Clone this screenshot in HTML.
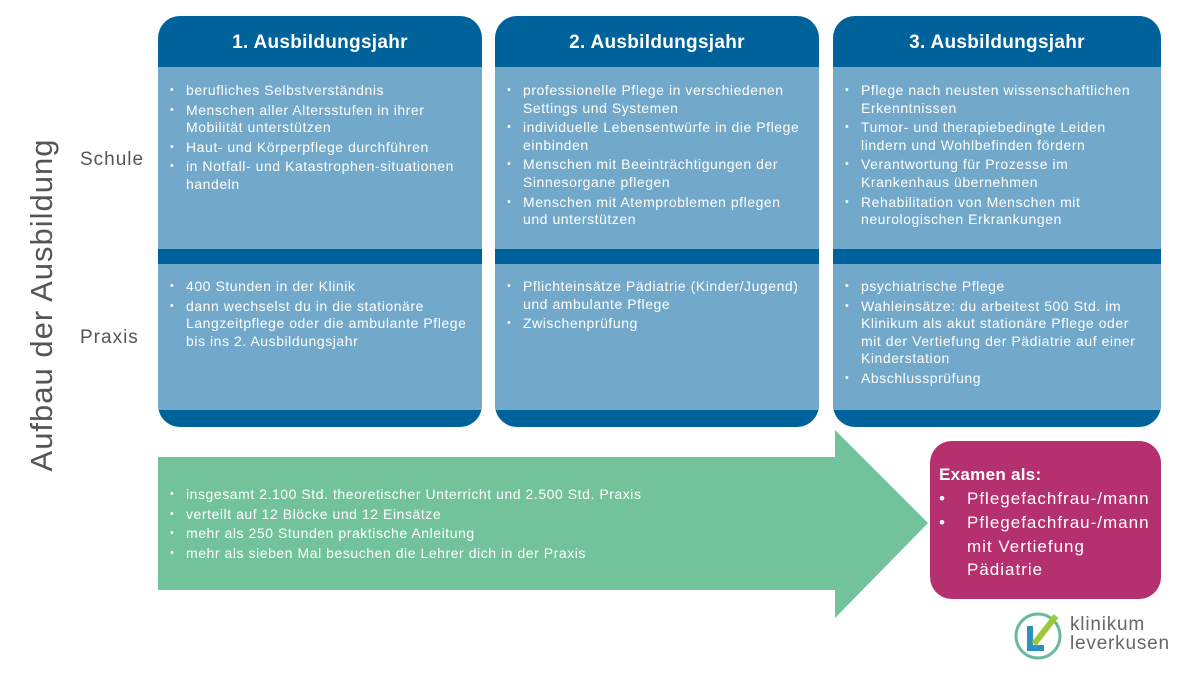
<!DOCTYPE html>
<html><head><meta charset="utf-8"><style>
body{margin:0;width:1200px;height:675px;background:#fff;font-family:"Liberation Sans",sans-serif;position:relative;overflow:hidden}
.col{position:absolute;top:16px;width:324px;height:411px;border-radius:22px;background:#00629a;overflow:hidden}
.col .h{height:51px;color:#fff;font-size:19px;font-weight:bold;text-align:center;line-height:54px;letter-spacing:0.3px}
.col .s{position:absolute;left:0;right:0;top:51px;height:182px;background:#72a8c9}
.col .p{position:absolute;left:0;right:0;top:248px;height:146px;background:#72a8c9}
ul{margin:0;padding:0;list-style:none}
li{position:relative;padding-left:28px;padding-right:6px;color:#fff;font-size:14px;letter-spacing:0.55px;line-height:17.6px;margin-bottom:2px}
li:before{content:"•";position:absolute;left:12px;font-size:11px}
.s ul{padding-top:15px}.p ul{padding-top:14px}
.c2 li,.c3 li{padding-right:14px}
.lab{position:absolute;color:#555;font-size:19px;letter-spacing:1px}
.ex{position:absolute;left:930px;top:441px;width:231px;height:158px;background:#b5306e;border-radius:22px;color:#fff;font-size:17px;line-height:23.5px;letter-spacing:1px}
</style></head><body>
<div style="position:absolute;left:42px;top:305px;transform:translate(-50%,-50%) rotate(-90deg);white-space:nowrap;color:#555;font-size:31px;letter-spacing:1px">Aufbau der Ausbildung</div>
<div class="lab" style="left:80px;top:149px">Schule</div>
<div class="lab" style="left:80px;top:327px">Praxis</div>

<div class="col" style="left:158px"><div class="h">1. Ausbildungsjahr</div>
<div class="s"><ul><li>berufliches Selbstverständnis</li><li>Menschen aller Altersstufen in ihrer Mobilität unterstützen</li><li>Haut- und Körperpflege durchführen</li><li>in Notfall- und Katastrophen-situationen handeln</li></ul></div>
<div class="p"><ul><li>400 Stunden in der Klinik</li><li>dann wechselst du in die stationäre Langzeitpflege oder die ambulante Pflege bis ins 2. Ausbildungsjahr</li></ul></div></div>

<div class="col c2" style="left:495px"><div class="h">2. Ausbildungsjahr</div>
<div class="s"><ul><li>professionelle Pflege in verschiedenen Settings und Systemen</li><li>individuelle Lebensentwürfe in die Pflege einbinden</li><li>Menschen mit Beeinträchtigungen der Sinnesorgane pflegen</li><li>Menschen mit Atemproblemen pflegen und unterstützen</li></ul></div>
<div class="p"><ul><li>Pflichteinsätze Pädiatrie (Kinder/Jugend) und ambulante Pflege</li><li>Zwischenprüfung</li></ul></div></div>

<div class="col c3" style="left:833px;width:328px"><div class="h">3. Ausbildungsjahr</div>
<div class="s"><ul><li>Pflege nach neusten wissenschaftlichen Erkenntnissen</li><li>Tumor- und therapiebedingte Leiden lindern und Wohlbefinden fördern</li><li>Verantwortung für Prozesse im Krankenhaus übernehmen</li><li>Rehabilitation von Menschen mit neurologischen Erkrankungen</li></ul></div>
<div class="p"><ul><li>psychiatrische Pflege</li><li>Wahleinsätze: du arbeitest 500 Std. im Klinikum als akut stationäre Pflege oder mit der Vertiefung der Pädiatrie auf einer Kinderstation</li><li>Abschlussprüfung</li></ul></div></div>

<svg style="position:absolute;left:0;top:0" width="1200" height="675"><polygon points="158,457 835,457 835,430 928,523 835,618 835,590 158,590" fill="#72c29b"/></svg>
<ul style="position:absolute;left:158px;top:486px;width:700px"><li>insgesamt 2.100 Std. theoretischer Unterricht und 2.500 Std. Praxis</li><li>verteilt auf 12 Blöcke und 12 Einsätze</li><li>mehr als 250 Stunden praktische Anleitung</li><li>mehr als sieben Mal besuchen die Lehrer dich in der Praxis</li></ul>

<div class="ex"><div style="position:absolute;left:9px;top:22px;font-weight:bold;letter-spacing:0.3px">Examen als:</div>
<div style="position:absolute;left:9px;top:46px">•</div><div style="position:absolute;left:37px;top:46px;white-space:nowrap">Pflegefachfrau-/mann</div>
<div style="position:absolute;left:9px;top:70px">•</div><div style="position:absolute;left:37px;top:70px;width:190px">Pflegefachfrau-/mann mit Vertiefung Pädiatrie</div></div>

<svg style="position:absolute;left:1012px;top:606px" width="60" height="60"><circle cx="26" cy="30" r="22" fill="none" stroke="#6bb8a0" stroke-width="3"/><path d="M18 20 L18 42 L32 42" fill="none" stroke="#2f8fc0" stroke-width="6"/><path d="M22 38 L44 10" stroke="#9cc83c" stroke-width="6"/></svg>
<div style="position:absolute;left:1070px;top:615px;color:#666;font-size:19px;line-height:19px;letter-spacing:0.8px">klinikum<br>leverkusen</div>
</body></html>
